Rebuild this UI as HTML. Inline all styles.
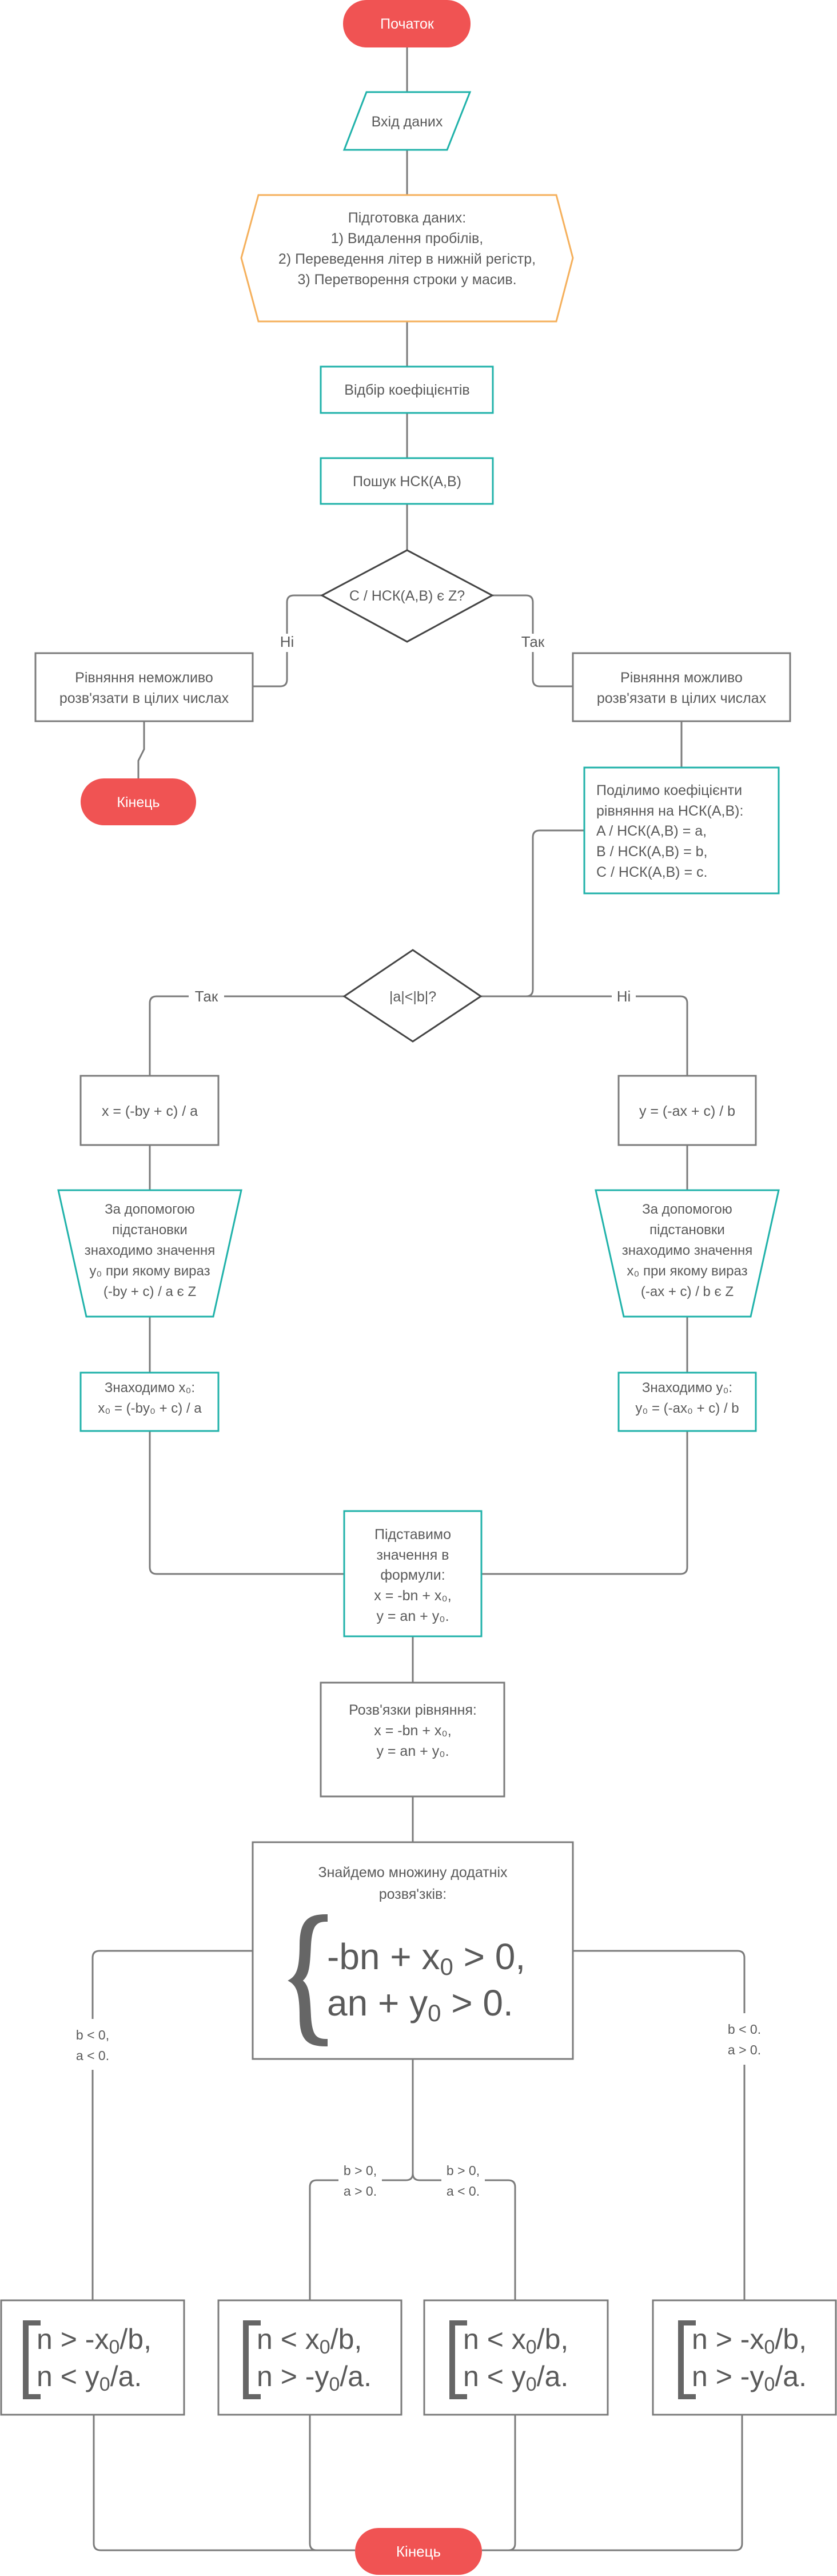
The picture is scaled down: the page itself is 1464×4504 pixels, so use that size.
<!DOCTYPE html>
<html><head><meta charset="utf-8"><style>
html,body{margin:0;padding:0;background:#fff}
svg{display:block}
text{font-family:"Liberation Sans",sans-serif;fill:#5a5a5a}
</style></head><body>
<svg width="1464" height="4504" viewBox="0 0 1464 4504" xmlns="http://www.w3.org/2000/svg">
<g fill="none" stroke="#7b7b7b" stroke-width="3">
<!-- top spine -->
<path d="M712 83V161M712 262V341M712 562V641M712 722V801M712 881V962"/>
<!-- diamond1 branches -->
<path d="M563 1041H514Q502 1041 502 1053V1108M502 1140V1188Q502 1200 490 1200H442"/>
<path d="M861 1041H920Q932 1041 932 1053V1108M932 1140V1188Q932 1200 944 1200H1002"/>
<path d="M252 1261V1310L242 1330V1361"/>
<path d="M1192 1261V1342"/>
<path d="M1022 1452H944Q932 1452 932 1464V1730Q932 1742 920 1742H841"/>
<path d="M602 1742H274Q262 1742 262 1754V1881"/>
<path d="M841 1742H1190Q1202 1742 1202 1754V1881"/>
<path d="M262 2002V2081M262 2302V2400M1202 2002V2081M1202 2302V2400"/>
<path d="M262 2502V2740Q262 2752 274 2752H602"/>
<path d="M1202 2502V2740Q1202 2752 1190 2752H842"/>
<path d="M722 2861V2942M722 3141V3221"/>
<path d="M442 3411H174Q162 3411 162 3423V3530M162 3619V4021"/>
<path d="M1002 3411H1290Q1302 3411 1302 3423V3520M1302 3610V4021"/>
<path d="M722 3600V3800Q722 3812 710 3812H554Q542 3812 542 3824V4021"/>
<path d="M722 3800Q722 3812 734 3812H889Q901 3812 901 3824V4021"/>
<path d="M164 4222V4447Q164 4459 176 4459H621"/>
<path d="M542 4222V4447Q542 4459 554 4459H621"/>
<path d="M901 4222V4447Q901 4459 889 4459H843"/>
<path d="M1298 4222V4447Q1298 4459 1286 4459H843"/>
</g>
<!-- label backgrounds -->
<g fill="#fff">
<rect x="330" y="1728" width="62" height="28"/>
<rect x="1070" y="1728" width="42" height="28"/>
<rect x="592" y="3780" width="76" height="64"/>
<rect x="772" y="3780" width="76" height="64"/>
</g>
<!-- start -->
<rect x="600" y="0" width="223" height="83" rx="41" fill="#f05353"/>
<text x="712" y="50" text-anchor="middle" font-size="25" style="fill:#fff">Початок</text>
<!-- input -->
<polygon points="641,161 822,161 782,262 602,262" fill="#fff" stroke="#20b2aa" stroke-width="3"/>
<text x="712" y="221" text-anchor="middle" font-size="25">Вхід даних</text>
<!-- hexagon -->
<polygon points="452,341 973,341 1002,451 973,562 452,562 422,451" fill="#fff" stroke="#f5b05c" stroke-width="3"/>
<g font-size="25" text-anchor="middle">
<text x="712" y="389">Підготовка даних:</text>
<text x="712" y="425">1) Видалення пробілів,</text>
<text x="712" y="461">2) Переведення літер в нижній регістр,</text>
<text x="712" y="497">3) Перетворення строки у масив.</text>
</g>
<rect x="561" y="641" width="301" height="81" fill="#fff" stroke="#20b2aa" stroke-width="3"/>
<text x="712" y="690" text-anchor="middle" font-size="25">Відбір коефіцієнтів</text>
<rect x="561" y="801" width="301" height="80" fill="#fff" stroke="#20b2aa" stroke-width="3"/>
<text x="712" y="850" text-anchor="middle" font-size="25">Пошук НСК(A,B)</text>
<polygon points="712,962 861,1041 712,1122 563,1041" fill="#fff" stroke="#444" stroke-width="3"/>
<text x="712" y="1050" text-anchor="middle" font-size="25">C / НСК(A,B) є Z?</text>
<text x="502" y="1131" text-anchor="middle" font-size="26">Ні</text>
<text x="932" y="1131" text-anchor="middle" font-size="26">Так</text>
<rect x="62" y="1142" width="380" height="119" fill="#fff" stroke="#7b7b7b" stroke-width="3"/>
<text x="252" y="1193" text-anchor="middle" font-size="25">Рівняння неможливо</text>
<text x="252" y="1229" text-anchor="middle" font-size="25">розв'язати в цілих числах</text>
<rect x="1002" y="1142" width="380" height="119" fill="#fff" stroke="#7b7b7b" stroke-width="3"/>
<text x="1192" y="1193" text-anchor="middle" font-size="25">Рівняння можливо</text>
<text x="1192" y="1229" text-anchor="middle" font-size="25">розв'язати в цілих числах</text>
<rect x="141" y="1361" width="202" height="82" rx="41" fill="#f05353"/>
<text x="242" y="1411" text-anchor="middle" font-size="25" style="fill:#fff">Кінець</text>
<rect x="1022" y="1342" width="340" height="220" fill="#fff" stroke="#20b2aa" stroke-width="3"/>
<g font-size="25">
<text x="1043" y="1390">Поділимо коефіцієнти</text>
<text x="1043" y="1426">рівняння на НСК(A,B):</text>
<text x="1043" y="1461">A / НСК(A,B) = a,</text>
<text x="1043" y="1497">B / НСК(A,B) = b,</text>
<text x="1043" y="1533">C / НСК(A,B) = c.</text>
</g>
<polygon points="722,1661 841,1742 722,1821 602,1742" fill="#fff" stroke="#444" stroke-width="3"/>
<text x="722" y="1751" text-anchor="middle" font-size="25">|a|&lt;|b|?</text>
<text x="361" y="1751" text-anchor="middle" font-size="26">Так</text>
<text x="1091" y="1751" text-anchor="middle" font-size="26">Ні</text>
<rect x="141" y="1881" width="241" height="121" fill="#fff" stroke="#7b7b7b" stroke-width="3"/>
<text x="262" y="1951" text-anchor="middle" font-size="25">x = (-by + c) / a</text>
<rect x="1082" y="1881" width="240" height="121" fill="#fff" stroke="#7b7b7b" stroke-width="3"/>
<text x="1202" y="1951" text-anchor="middle" font-size="25">y = (-ax + c) / b</text>
<polygon points="102,2081 422,2081 373,2302 151,2302" fill="#fff" stroke="#20b2aa" stroke-width="3"/>
<g font-size="24" text-anchor="middle">
<text x="262" y="2122">За допомогою</text>
<text x="262" y="2158">підстановки</text>
<text x="262" y="2194">знаходимо значення</text>
<text x="262" y="2230">y₀ при якому вираз</text>
<text x="262" y="2266">(-by + c) / a є Z</text>
</g>
<polygon points="1042,2081 1362,2081 1313,2302 1091,2302" fill="#fff" stroke="#20b2aa" stroke-width="3"/>
<g font-size="24" text-anchor="middle">
<text x="1202" y="2122">За допомогою</text>
<text x="1202" y="2158">підстановки</text>
<text x="1202" y="2194">знаходимо значення</text>
<text x="1202" y="2230">x₀ при якому вираз</text>
<text x="1202" y="2266">(-ax + c) / b є Z</text>
</g>
<rect x="141" y="2400" width="241" height="102" fill="#fff" stroke="#20b2aa" stroke-width="3"/>
<text x="262" y="2434" text-anchor="middle" font-size="24">Знаходимо x₀:</text>
<text x="262" y="2470" text-anchor="middle" font-size="24">x₀ = (-by₀ + c) / a</text>
<rect x="1082" y="2400" width="240" height="102" fill="#fff" stroke="#20b2aa" stroke-width="3"/>
<text x="1202" y="2434" text-anchor="middle" font-size="24">Знаходимо y₀:</text>
<text x="1202" y="2470" text-anchor="middle" font-size="24">y₀ = (-ax₀ + c) / b</text>
<rect x="602" y="2642" width="240" height="219" fill="#fff" stroke="#20b2aa" stroke-width="3"/>
<g font-size="25" text-anchor="middle">
<text x="722" y="2691">Підставимо</text>
<text x="722" y="2727">значення в</text>
<text x="722" y="2762">формули:</text>
<text x="722" y="2798">x = -bn + x₀,</text>
<text x="722" y="2834">y = an + y₀.</text>
</g>
<rect x="561" y="2942" width="321" height="199" fill="#fff" stroke="#7b7b7b" stroke-width="3"/>
<g font-size="25" text-anchor="middle">
<text x="722" y="2998">Розв'язки рівняння:</text>
<text x="722" y="3034">x = -bn + x₀,</text>
<text x="722" y="3070">y = an + y₀.</text>
</g>
<rect x="442" y="3221" width="560" height="379" fill="#fff" stroke="#7b7b7b" stroke-width="3"/>
<text x="722" y="3282" text-anchor="middle" font-size="25">Знайдемо множину додатніх</text>
<text x="722" y="3320" text-anchor="middle" font-size="25">розвя'зків:</text>
<path d="M570 3350C540 3350 527 3360 527 3400C527 3440 522 3455 509 3463C522 3471 527 3486 527 3526C527 3566 540 3575 570 3575L570 3568C550 3568 543 3558 541 3526C539 3486 538 3472 525 3463C538 3454 539 3440 541 3400C543 3368 550 3357 570 3357Z" fill="#666" stroke="#666" stroke-width="6"/>
<text x="572" y="3443" font-size="64">-bn + x<tspan font-size="42" dy="10">0</tspan><tspan dy="-10"> &gt; 0,</tspan></text>
<text x="572" y="3524" font-size="64">an + y<tspan font-size="42" dy="10">0</tspan><tspan dy="-10"> &gt; 0.</tspan></text>
<text x="162" y="3566" text-anchor="middle" font-size="23">b &lt; 0,</text>
<text x="162" y="3602" text-anchor="middle" font-size="23">a &lt; 0.</text>
<text x="1302" y="3556" text-anchor="middle" font-size="23">b &lt; 0.</text>
<text x="1302" y="3592" text-anchor="middle" font-size="23">a &gt; 0.</text>
<text x="630" y="3803" text-anchor="middle" font-size="23">b &gt; 0,</text>
<text x="630" y="3839" text-anchor="middle" font-size="23">a &gt; 0.</text>
<text x="810" y="3803" text-anchor="middle" font-size="23">b &gt; 0,</text>
<text x="810" y="3839" text-anchor="middle" font-size="23">a &lt; 0.</text>
<!-- result boxes -->
<g fill="#fff" stroke="#7b7b7b" stroke-width="3">
<rect x="2" y="4022" width="320" height="200"/>
<rect x="382" y="4022" width="320" height="200"/>
<rect x="742" y="4022" width="321" height="200"/>
<rect x="1142" y="4022" width="320" height="200"/>
</g>
<g fill="#666">
<path d="M40 4057h31v9h-21v120h21v9h-31z"/>
<path d="M425 4057h31v9h-21v120h21v9h-31z"/>
<path d="M786 4057h31v9h-21v120h21v9h-31z"/>
<path d="M1186 4057h31v9h-21v120h21v9h-31z"/>
</g>
<g font-size="50">
<text x="64" y="4107">n &gt; -x<tspan font-size="34" dy="8">0</tspan><tspan dy="-8">/b,</tspan></text>
<text x="64" y="4172">n &lt; y<tspan font-size="34" dy="8">0</tspan><tspan dy="-8">/a.</tspan></text>
<text x="449" y="4107">n &lt; x<tspan font-size="34" dy="8">0</tspan><tspan dy="-8">/b,</tspan></text>
<text x="449" y="4172">n &gt; -y<tspan font-size="34" dy="8">0</tspan><tspan dy="-8">/a.</tspan></text>
<text x="810" y="4107">n &lt; x<tspan font-size="34" dy="8">0</tspan><tspan dy="-8">/b,</tspan></text>
<text x="810" y="4172">n &lt; y<tspan font-size="34" dy="8">0</tspan><tspan dy="-8">/a.</tspan></text>
<text x="1210" y="4107">n &gt; -x<tspan font-size="34" dy="8">0</tspan><tspan dy="-8">/b,</tspan></text>
<text x="1210" y="4172">n &gt; -y<tspan font-size="34" dy="8">0</tspan><tspan dy="-8">/a.</tspan></text>
</g>
<rect x="621" y="4420" width="222" height="82" rx="41" fill="#f05353"/>
<text x="732" y="4470" text-anchor="middle" font-size="26" style="fill:#fff">Кінець</text>
</svg>
</body></html>
